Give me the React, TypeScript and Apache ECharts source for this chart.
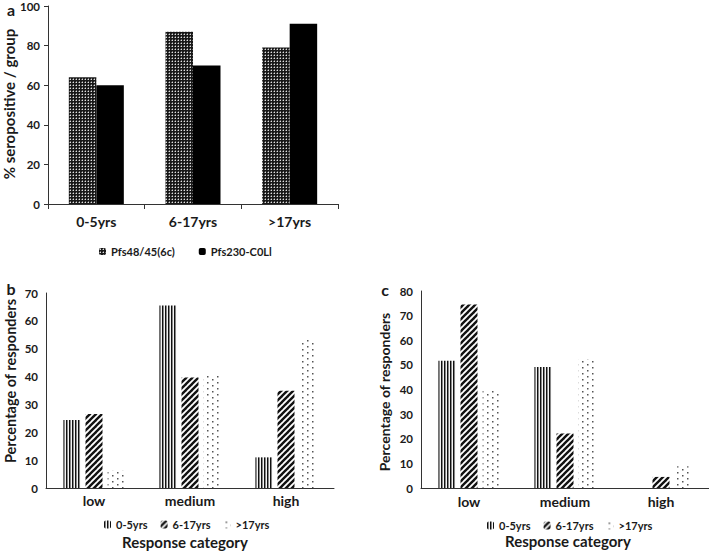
import React, { useEffect, useRef } from 'react';
import * as echarts from 'echarts';

// ---- data ----
const ageGroupsA = ['0-5yrs', '6-17yrs', '>17yrs'];
const seriesNamesA = ['Pfs48/45(6c)', 'Pfs230-C0Ll'];
const pfs48 = [64, 87, 79];
const pfs230 = [60, 70, 91];
const yTicksA = { min: 0, max: 100, interval: 20 };

const responseCats = ['low', 'medium', 'high'];
const ageNames = ['0-5yrs', '6-17yrs', '>17yrs'];
const bYoung = [24.4, 65.5, 11];
const bMid = [26.6, 39.7, 34.9];
const bOld = [6.2, 40.3, 53.5];
const yTicksB = { min: 0, max: 70, interval: 10 };

const cYoung = [51.7, 49.1, 0];
const cMid = [74.5, 22.1, 4.5];
const cOld = [39.7, 52.2, 8.8];
const yTicksC = { min: 0, max: 80, interval: 10 };

const FONT = 'Lato, "Open Sans", sans-serif';
const TXT = '#1a1a1a';

function makePattern(w: number, h: number, draw: (ctx: CanvasRenderingContext2D) => void) {
  const c = document.createElement('canvas');
  c.width = w;
  c.height = h;
  const ctx = c.getContext('2d') as CanvasRenderingContext2D;
  draw(ctx);
  return { image: c, repeat: 'repeat', imageWidth: w, imageHeight: h } as any;
}

export default function App() {
  const ref = useRef<HTMLDivElement>(null);
  useEffect(() => {
    if (!ref.current) return;
    const chart = echarts.init(ref.current, undefined, { renderer: 'svg' });

    const checker = makePattern(3, 3, (ctx) => {
      ctx.fillStyle = '#181818';
      ctx.fillRect(0, 0, 3, 3);
      ctx.fillStyle = '#e0e0e0';
      ctx.fillRect(1, 1, 1, 1);
      ctx.fillStyle = '#6a6a6a';
      ctx.fillRect(0, 1, 1, 1);
      ctx.fillRect(1, 0, 1, 1);
    });
    const vstripe = makePattern(3, 1, (ctx) => {
      ctx.fillStyle = '#111';
      ctx.fillRect(0, 0, 1, 1);
      ctx.fillStyle = '#888';
      ctx.fillRect(1, 0, 1, 1);
      ctx.fillStyle = '#f4f4f4';
      ctx.fillRect(2, 0, 1, 1);
    });
    const diag = makePattern(6, 6, (ctx) => {
      ctx.fillStyle = '#fff';
      ctx.fillRect(0, 0, 6, 6);
      ctx.strokeStyle = '#111';
      ctx.lineWidth = 2.4;
      for (const o of [-6, 0, 6]) {
        ctx.beginPath();
        ctx.moveTo(o - 1, 7);
        ctx.lineTo(o + 7, -1);
        ctx.stroke();
      }
    });
    const dots = makePattern(10, 6, (ctx) => {
      ctx.fillStyle = '#fff';
      ctx.fillRect(0, 0, 10, 6);
      ctx.fillStyle = '#555';
      ctx.fillRect(2, 1, 1.5, 1.5);
      ctx.fillRect(7, 4, 1.5, 1.5);
    });
    const patterns = [vstripe, diag, dots];

    const axisLine = { show: true, lineStyle: { color: '#333', width: 1 } };
    const tickLabel = { color: TXT, fontFamily: FONT, fontWeight: 'bold', fontSize: 11.5 };
    const catLabel = { color: TXT, fontFamily: FONT, fontWeight: 'bold', fontSize: 14 };

    const legendText = { color: TXT, fontFamily: FONT, fontWeight: 'bold', fontSize: 11 };

    const titleText = (text: string, x: number, y: number, size: number, rot = 0) => ({
      type: 'text',
      x,
      y,
      rotation: rot,
      style: {
        text,
        fill: TXT,
        font: `bold ${size}px ${FONT}`,
        align: 'center',
        verticalAlign: 'middle',
      },
    });

    const bcSeries = (vals: number[][], xi: number) =>
      vals.map((v, i) => ({
        type: 'bar',
        name: ageNames[i],
        xAxisIndex: xi,
        yAxisIndex: xi,
        data: v,
        barWidth: 17,
        barGap: '30%',
        itemStyle: { color: patterns[i] },
      }));

    chart.setOption({
      animation: false,
      textStyle: { fontFamily: FONT },
      grid: [
        { left: 48, top: 5, width: 290, height: 199 },
        { left: 46, top: 293, width: 288, height: 195 },
        { left: 421, top: 291, width: 289, height: 197 },
      ],
      xAxis: [
        {
          type: 'category',
          gridIndex: 0,
          data: ageGroupsA,
          axisLine,
          axisTick: { show: true, length: 5, lineStyle: { color: '#333' } },
          axisLabel: { ...catLabel, margin: 10 },
        },
        {
          type: 'category',
          gridIndex: 1,
          data: responseCats,
          axisLine,
          axisTick: { show: false },
          axisLabel: { ...catLabel, margin: 5 },
        },
        {
          type: 'category',
          gridIndex: 2,
          data: responseCats,
          axisLine,
          axisTick: { show: false },
          axisLabel: { ...catLabel, margin: 6 },
        },
      ],
      yAxis: [
        {
          type: 'value',
          gridIndex: 0,
          ...yTicksA,
          axisLine,
          axisTick: { show: true, length: 4, lineStyle: { color: '#333' } },
          splitLine: { show: false },
          axisLabel: { ...tickLabel, margin: 8 },
        },
        {
          type: 'value',
          gridIndex: 1,
          ...yTicksB,
          axisLine,
          axisTick: { show: false },
          splitLine: { show: false },
          axisLabel: { ...tickLabel, margin: 8 },
        },
        {
          type: 'value',
          gridIndex: 2,
          ...yTicksC,
          axisLine,
          axisTick: { show: false },
          splitLine: { show: false },
          axisLabel: { ...tickLabel, margin: 8 },
        },
      ],
      legend: [
        {
          data: seriesNamesA,
          left: 94,
          top: 241,
          itemWidth: 7,
          itemHeight: 7,
          itemGap: 24,
          textStyle: legendText,
        },
        {
          data: ageNames,
          left: 99,
          top: 514,
          itemWidth: 7,
          itemHeight: 8,
          itemGap: 13,
          textStyle: legendText,
        },
        {
          data: ageNames,
          left: 482,
          top: 515,
          itemWidth: 7,
          itemHeight: 8,
          itemGap: 13,
          textStyle: legendText,
        },
      ],
      graphic: [
        titleText('a', 11, 9, 16),
        titleText('b', 11, 288, 16),
        titleText('c', 385, 289, 16),
        titleText('% seropositive / group', 9, 104, 15, Math.PI / 2),
        titleText('Percentage of responders', 10, 381, 14.5, Math.PI / 2),
        titleText('Percentage of responders', 384, 392, 14, Math.PI / 2),
        titleText('Response category', 185, 542, 15),
        titleText('Response category', 568, 541, 15),
      ],
      series: [
        {
          type: 'bar',
          name: seriesNamesA[0],
          xAxisIndex: 0,
          yAxisIndex: 0,
          data: pfs48,
          barWidth: 27.5,
          barGap: '0%',
          itemStyle: { color: checker },
        },
        {
          type: 'bar',
          name: seriesNamesA[1],
          xAxisIndex: 0,
          yAxisIndex: 0,
          data: pfs230,
          barWidth: 27.5,
          barGap: '0%',
          itemStyle: { color: '#000' },
        },
        ...bcSeries([bYoung, bMid, bOld], 1),
        ...bcSeries([cYoung, cMid, cOld], 2),
      ],
    });
    return () => chart.dispose();
  }, []);
  return (
    <div
      ref={ref}
      style={{ position: 'absolute', left: 0, top: 0, width: 709, height: 552, background: '#fff' }}
    />
  );
}
